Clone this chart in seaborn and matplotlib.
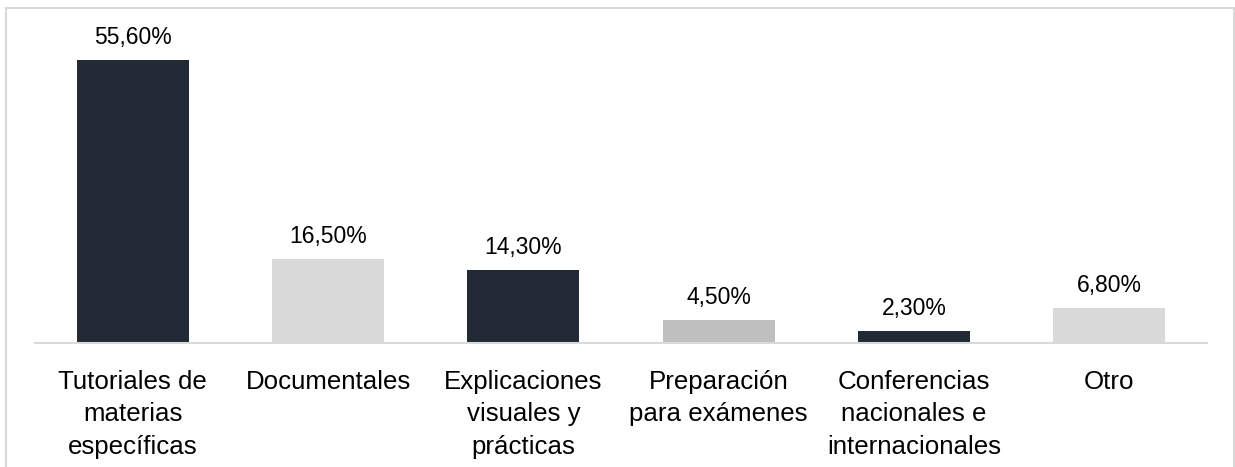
import matplotlib
matplotlib.use("Agg")
import matplotlib.pyplot as plt
from matplotlib.patches import Rectangle
import seaborn as sns
import pandas as pd

categories = [
    "Tutoriales de\nmaterias\nespecíficas",
    "Documentales",
    "Explicaciones\nvisuales y\nprácticas",
    "Preparación\npara exámenes",
    "Conferencias\nnacionales e\ninternacionales",
    "Otro",
]
values = [55.6, 16.5, 14.3, 4.5, 2.3, 6.8]
labels = ["55,60%", "16,50%", "14,30%", "4,50%", "2,30%", "6,80%"]
bar_colors = ["#222a35", "#d9d9d9", "#222a35", "#bfbfbf", "#222a35", "#d9d9d9"]

sns.set_theme(style="white")
plt.rcParams["font.family"] = ["Liberation Sans", "DejaVu Sans"]

W, H = 1235, 467
fig = plt.figure(figsize=(W / 100, H / 100), dpi=100)
ax = fig.add_axes([35 / W, (H - 343) / H, (1207 - 35) / W, (343 - 20) / H])

df = pd.DataFrame({"cat": categories, "val": values})
sns.barplot(data=df, x="cat", y="val", hue="cat", palette=bar_colors,
            legend=False, width=0.573, ax=ax, saturation=1, linewidth=0)

ax.set_xlim(-0.5, len(categories) - 0.5)
ax.set_ylim(0, 323 / 5.09)

for i, (v, lab) in enumerate(zip(values, labels)):
    ax.annotate(lab, xy=(i, v), xytext=(0, 8), textcoords="offset points",
                ha="center", va="bottom", fontsize=16.5, color="#000000")

ax.set_xlabel("")
ax.set_ylabel("")
ax.set_yticks([])
ax.tick_params(axis="x", length=0, pad=19.5, labelsize=18.6, colors="#000000")
for lbl in ax.get_xticklabels():
    lbl.set_linespacing(1.44)
    lbl.set_multialignment("center")

for s in ["top", "left", "right"]:
    ax.spines[s].set_visible(False)
ax.spines["bottom"].set_color("#d9d9d9")
ax.spines["bottom"].set_linewidth(1.5)

border = Rectangle((5.5 / W, -0.1), (1233.5 - 5.5) / W, (H - 8) / H + 0.1,
                   transform=fig.transFigure, fill=False,
                   edgecolor="#d9d9d9", linewidth=1.5, clip_on=False)
fig.add_artist(border)

fig.savefig("out.png", dpi=100)
